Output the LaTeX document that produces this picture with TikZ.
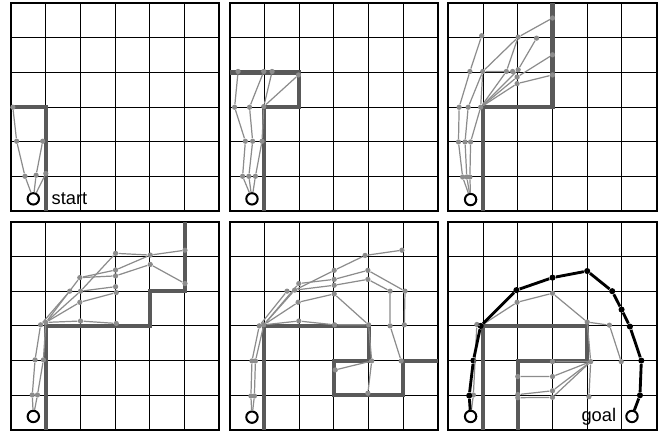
\documentclass[tikz,border=0pt]{standalone}
\usepackage{fontspec}
\setmainfont{Liberation Sans}
\usetikzlibrary{positioning}

\begin{document}
\begin{tikzpicture}[x=0.6cm, y=0.6cm]
    % Define styles
    \tikzstyle{grd} = [draw=black, line width=0.45pt]
    \tikzstyle{frame} = [draw=black, line width=0.9pt]
    \tikzstyle{wall} = [draw=black!65, line width=2pt, line join=miter]
    \tikzstyle{edge} = [draw=black!45, line width=0.6pt]
    \tikzstyle{dot} = [circle, fill=black!45, inner sep=0pt, minimum size=2.6pt]
    \tikzstyle{pdot} = [circle, fill=black, inner sep=0pt, minimum size=3pt]
    \tikzstyle{route} = [draw=black, line width=1.4pt]
    \tikzstyle{endpt} = [circle, draw=black, fill=white, line width=1pt, inner sep=0pt, minimum size=5.6pt]
    \tikzstyle{lbl} = [font=\fontsize{9}{11}\selectfont, inner sep=0pt]

    \useasboundingbox (0,0) rectangle (18.96,12.54);

    % Grids
    \foreach \ox/\oy in {0.32/6.45, 6.62/6.45, 12.92/6.45, 0.32/0.15, 6.62/0.15, 12.92/0.15} {
        \draw[grd, shift={(\ox,\oy)}, step={(1,1)}] (0,0) grid (6,6);
        \draw[frame, shift={(\ox,\oy)}] (0,0) rectangle (6,6);
    }

    % Panel 1
    \begin{scope}[shift={(0.32,6.45)}]
        \draw[wall] (0,3) -- (1,3) -- (1,0);
        \node[endpt] (a0) at (0.64,0.36) {};
        \node[lbl, anchor=west, right=5.5pt of a0] (start) {start};
        \node[dot] (a1) at (0.40,1.01) {};
        \node[dot] (a2) at (0.72,1.04) {};
        \node[dot] (a3) at (1.00,1.09) {};
        \node[dot] (a4) at (0.16,2.02) {};
        \node[dot] (a5) at (0.91,2.02) {};
        \node[dot] (a6) at (0.05,3.00) {};
        \draw[edge] (a0) -- (a1) -- (a4) -- (a6);
        \draw[edge] (a0) -- (a2) -- (a5);
        \draw[edge] (a0) -- (a3);
    \end{scope}

    % Panel 2
    \begin{scope}[shift={(6.62,6.45)}]
        \draw[wall] (0,4) -- (2,4) -- (2,3) -- (1,3) -- (1,0);
        \node[endpt] (b0) at (0.64,0.36) {};
        \node[dot] (b1) at (0.37,1.01) {};
        \node[dot] (b2) at (0.55,1.01) {};
        \node[dot] (b3) at (0.74,1.01) {};
        \node[dot] (b4) at (0.45,2.02) {};
        \node[dot] (b5) at (0.66,2.02) {};
        \node[dot] (b6) at (0.93,2.02) {};
        \node[dot] (b7) at (0.14,3.00) {};
        \node[dot] (b8) at (0.57,3.00) {};
        \node[dot] (b9) at (0.98,3.02) {};
        \node[dot] (b10) at (0.24,4.03) {};
        \node[dot] (b11) at (0.98,4.03) {};
        \node[dot] (b12) at (1.22,4.03) {};
        \node[dot] (b13) at (1.98,3.93) {};
        \draw[edge] (b0) -- (b1) -- (b4) -- (b7) -- (b10);
        \draw[edge] (b0) -- (b2) -- (b5) -- (b8) -- (b11);
        \draw[edge] (b0) -- (b3) -- (b6) -- (b9) -- (b12);
        \draw[edge] (b9) -- (b13);
    \end{scope}

    % Panel 3
    \begin{scope}[shift={(12.92,6.45)}]
        \draw[wall] (1,0) -- (1,3) -- (3,3) -- (3,6);
        \node[endpt] (c0) at (0.64,0.34) {};
        \node[dot] (c1) at (0.41,0.99) {};
        \node[dot] (c2) at (0.53,0.99) {};
        \node[dot] (c3) at (0.62,0.99) {};
        \node[dot] (c4) at (0.29,2.00) {};
        \node[dot] (c5) at (0.48,2.00) {};
        \node[dot] (c6) at (0.64,2.00) {};
        \node[dot] (c7) at (0.31,3.00) {};
        \node[dot] (c8) at (0.57,3.00) {};
        \node[dot] (c9) at (0.93,3.00) {};
        \node[dot] (c10) at (0.62,4.03) {};
        \node[dot] (c11) at (0.99,4.03) {};
        \node[dot] (c12) at (1.67,4.03) {};
        \node[dot] (c13) at (1.85,4.03) {};
        \node[dot] (c14) at (2.01,4.08) {};
        \node[dot] (c15) at (1.98,3.87) {};
        \node[dot] (c16) at (1.98,3.68) {};
        \node[dot] (c17) at (0.96,5.06) {};
        \node[dot] (c18) at (2.01,5.02) {};
        \node[dot] (c19) at (2.54,4.99) {};
        \node[dot] (c20) at (3.00,5.57) {};
        \node[dot] (c21) at (3.00,4.51) {};
        \node[dot] (c22) at (3.00,3.93) {};
        \draw[edge] (c0) -- (c1) -- (c4) -- (c7) -- (c10) -- (c17);
        \draw[edge] (c0) -- (c2) -- (c5) -- (c8) -- (c11) -- (c18) -- (c20);
        \draw[edge] (c0) -- (c3) -- (c6) -- (c9);
        \draw[edge] (c9) -- (c11) -- (c13);
        \draw[edge] (c9) -- (c12) -- (c18);
        \draw[edge] (c9) -- (c14) -- (c19);
        \draw[edge] (c9) -- (c15) -- (c21);
        \draw[edge] (c9) -- (c16) -- (c22);
    \end{scope}

    % Panel 4
    \begin{scope}[shift={(0.32,0.15)}]
        \draw[wall] (1,0) -- (1,3) -- (4,3) -- (4,4) -- (5,4) -- (5,6);
        \node[endpt] (d0) at (0.64,0.39) {};
        \node[dot] (d1) at (0.61,1.01) {};
        \node[dot] (d2) at (0.76,1.01) {};
        \node[dot] (d3) at (0.69,2.02) {};
        \node[dot] (d4) at (0.93,2.02) {};
        \node[dot] (d5) at (0.85,3.03) {};
        \node[dot] (d6) at (1.00,3.10) {};
        \node[dot] (d7) at (2.00,3.14) {};
        \node[dot] (d8) at (3.03,3.07) {};
        \node[dot] (d9) at (1.98,3.68) {};
        \node[dot] (d10) at (3.03,3.96) {};
        \node[dot] (d11) at (1.69,4.00) {};
        \node[dot] (d12) at (2.00,4.00) {};
        \node[dot] (d13) at (1.98,4.39) {};
        \node[dot] (d14) at (3.01,5.09) {};
        \node[dot] (d15) at (3.01,4.61) {};
        \node[dot] (d16) at (3.01,4.44) {};
        \node[dot] (d17) at (3.01,4.13) {};
        \node[dot] (d18) at (4.01,5.04) {};
        \node[dot] (d19) at (4.01,4.77) {};
        \node[dot] (d20) at (5.01,5.18) {};
        \node[dot] (d21) at (5.01,4.22) {};
        \draw[edge] (d0) -- (d1) -- (d3) -- (d5);
        \draw[edge] (d0) -- (d2) -- (d4) -- (d6);
        \draw[edge] (d6) -- (d7) -- (d8);
        \draw[edge] (d6) -- (d9) -- (d10);
        \draw[edge] (d5) -- (d11);
        \draw[edge] (d6) -- (d12) -- (d17);
        \draw[edge] (d12) -- (d14) -- (d18) -- (d20);
        \draw[edge] (d6) -- (d13) -- (d16) -- (d19) -- (d21);
        \draw[edge] (d13) -- (d15) -- (d18);
    \end{scope}

    % Panel 5
    \begin{scope}[shift={(6.62,0.15)}]
        \draw[wall] (1,0) -- (1,3) -- (4,3) -- (4,2) -- (3,2) -- (3,1) -- (5,1) -- (5,2) -- (6,2);
        \node[endpt] (e0) at (0.64,0.37) {};
        \node[dot] (e1) at (0.61,0.98) {};
        \node[dot] (e2) at (0.71,0.98) {};
        \node[dot] (e3) at (0.64,1.99) {};
        \node[dot] (e4) at (0.74,1.99) {};
        \node[dot] (e5) at (0.85,3.00) {};
        \node[dot] (e6) at (0.98,3.03) {};
        \node[dot] (e7) at (1.99,3.14) {};
        \node[dot] (e8) at (3.02,3.03) {};
        \node[dot] (e9) at (4.00,3.03) {};
        \node[dot] (e10) at (1.97,3.68) {};
        \node[dot] (e11) at (3.01,3.92) {};
        \node[dot] (e12) at (1.65,4.00) {};
        \node[dot] (e13) at (1.87,4.03) {};
        \node[dot] (e14) at (1.99,4.22) {};
        \node[dot] (e15) at (3.01,4.17) {};
        \node[dot] (e16) at (3.01,4.34) {};
        \node[dot] (e17) at (3.01,4.60) {};
        \node[dot] (e18) at (3.98,4.34) {};
        \node[dot] (e19) at (3.98,4.60) {};
        \node[dot] (e20) at (3.90,5.03) {};
        \node[dot] (e21) at (4.96,5.18) {};
        \node[dot] (e22) at (4.62,4.00) {};
        \node[dot] (e23) at (5.05,4.00) {};
        \node[dot] (e24) at (4.62,3.00) {};
        \node[dot] (e25) at (5.03,3.03) {};
        \node[dot] (e26) at (4.94,1.99) {};
        \node[dot] (e27) at (4.09,1.99) {};
        \node[dot] (e28) at (3.04,1.73) {};
        \node[dot] (e29) at (3.98,1.06) {};
        \draw[edge] (e0) -- (e1) -- (e3) -- (e5);
        \draw[edge] (e0) -- (e2) -- (e4) -- (e6);
        \draw[edge] (e6) -- (e7) -- (e8) -- (e9) -- (e27) -- (e29);
        \draw[edge] (e6) -- (e10) -- (e11) -- (e9);
        \draw[edge] (e5) -- (e12);
        \draw[edge] (e6) -- (e13) -- (e15) -- (e18) -- (e22) -- (e24) -- (e26);
        \draw[edge] (e6) -- (e14) -- (e16) -- (e19) -- (e23) -- (e25);
        \draw[edge] (e13) -- (e17) -- (e20) -- (e21);
        \draw[edge] (e27) -- (e28);
    \end{scope}

    % Panel 6
    \begin{scope}[shift={(12.92,0.15)}]
        \draw[wall] (1,0) -- (1,3) -- (4,3) -- (4,2) -- (2,2) -- (2,0);
        \node[endpt] (f0) at (0.64,0.39) {};
        \node[endpt] (fg) at (5.29,0.39) {};
        \node[lbl, anchor=east, left=4.3pt of fg] (goal) {goal};
        % explored tree
        \node[dot] (f1) at (0.72,1.01) {};
        \node[dot] (f2) at (0.82,3.04) {};
        \node[dot] (f3) at (1.98,3.68) {};
        \node[dot] (f4) at (3.00,3.94) {};
        \node[dot] (f5) at (4.00,3.11) {};
        \node[dot] (f6) at (4.64,3.02) {};
        \node[dot] (f7) at (4.98,1.97) {};
        \node[dot] (f8) at (4.10,1.97) {};
        \node[dot] (f9) at (4.05,0.96) {};
        \node[dot] (f11) at (3.00,1.97) {};
        \node[dot] (f12) at (3.00,1.54) {};
        \node[dot] (f13) at (3.00,1.13) {};
        \node[dot] (f14) at (3.00,0.94) {};
        \node[dot] (f15) at (2.00,1.54) {};
        \node[dot] (f16) at (2.00,1.02) {};
        \node[dot] (f17) at (2.00,0.93) {};
        % final path
        \node[pdot] (r1) at (0.60,0.99) {};
        \node[pdot] (r2) at (0.72,2.00) {};
        \node[pdot] (r3) at (0.93,3.00) {};
        \node[pdot] (r4) at (1.96,4.03) {};
        \node[pdot] (r5) at (3.00,4.39) {};
        \node[pdot] (r6) at (4.00,4.58) {};
        \node[pdot] (r7) at (4.72,4.00) {};
        \node[pdot] (r8) at (4.99,3.47) {};
        \node[pdot] (r9) at (5.23,2.98) {};
        \node[pdot] (r10) at (5.56,2.00) {};
        \node[pdot] (r11) at (5.52,1.00) {};
        \draw[edge] (f0) -- (f1) -- (f2) -- (r3);
        \draw[edge] (r3) -- (f3) -- (f4) -- (f5) -- (f6) -- (f7);
        \draw[edge] (f5) -- (f8) -- (f9);
        \draw[edge] (f8) -- (f11);
        \draw[edge] (f8) -- (f12) -- (f15);
        \draw[edge] (f8) -- (f13) -- (f16);
        \draw[edge] (f8) -- (f14) -- (f17);
        \draw[route] (f0) -- (r1) -- (r2) -- (r3) -- (r4) -- (r5) -- (r6) -- (r7) -- (r8) -- (r9) -- (r10) -- (r11) -- (fg);
    \end{scope}
\end{tikzpicture}
\end{document}
